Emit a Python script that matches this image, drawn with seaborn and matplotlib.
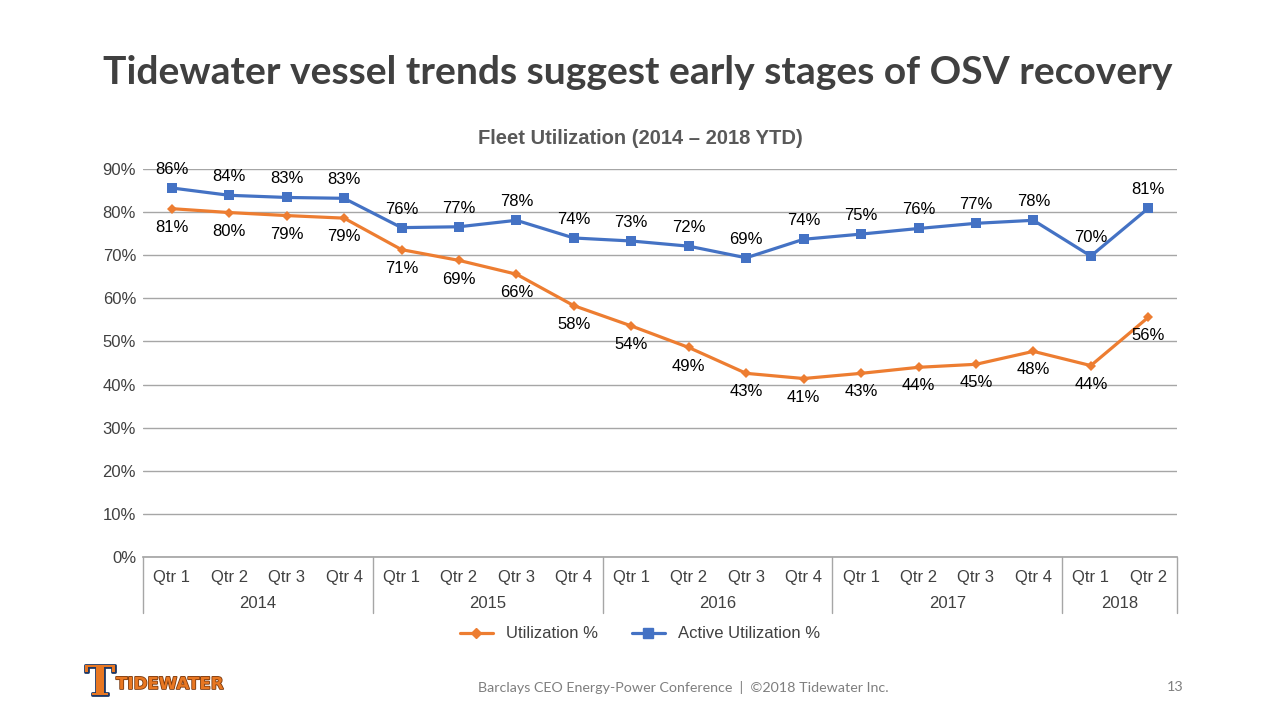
import numpy as np
import pandas as pd
import matplotlib
matplotlib.use("Agg")
import matplotlib.pyplot as plt
import matplotlib.patheffects as pe
import matplotlib.transforms as mtransforms
from matplotlib.lines import Line2D
from matplotlib.ticker import PercentFormatter
import seaborn as sns

# Datos
years = ["2014", "2015", "2016", "2017", "2018"]
quarters_per_year = [4, 4, 4, 4, 2]
quarter_labels = ["Qtr 1", "Qtr 2", "Qtr 3", "Qtr 4"] * 4 + ["Qtr 1", "Qtr 2"]
utilization = [80.8, 79.9, 79.2, 78.6, 71.3, 68.8, 65.6, 58.3, 53.6, 48.6,
               42.6, 41.4, 42.6, 44.0, 44.7, 47.7, 44.4, 55.6]
active_utilization = [85.6, 83.9, 83.4, 83.2, 76.4, 76.6, 78.1, 74.0, 73.3, 72.1,
                      69.4, 73.7, 74.9, 76.2, 77.4, 78.1, 69.8, 80.9]

ORANGE = "#ED7D31"
BLUE = "#4472C4"

sns.set_theme(style="white")
plt.rcParams["font.family"] = ["Liberation Sans", "DejaVu Sans"]

pos = np.arange(len(quarter_labels))
df = pd.DataFrame({
    "pos": np.concatenate([pos, pos]),
    "valor": utilization + active_utilization,
    "serie": ["Utilization %"] * len(pos) + ["Active Utilization %"] * len(pos),
})

fig = plt.figure(figsize=(12.8, 7.2), dpi=100)
ax = fig.add_axes([143 / 1280, 1 - 557 / 720, 1034 / 1280, 388 / 720])

sns.lineplot(data=df, x="pos", y="valor", hue="serie", style="serie",
             palette={"Utilization %": ORANGE, "Active Utilization %": BLUE},
             markers={"Utilization %": "D", "Active Utilization %": "s"},
             dashes=False, linewidth=2.3, markersize=6.5, markeredgewidth=0,
             ax=ax, legend=False)
# diamantes más pequeños que los cuadrados
for line, ms in zip(ax.lines, [5, 7.5]):
    line.set_markersize(ms)

ax.set_xlim(-0.5, len(pos) - 0.5)
ax.set_ylim(0, 90)
ax.set_yticks(np.arange(0, 91, 10))
ax.yaxis.set_major_formatter(PercentFormatter(decimals=0))
ax.grid(axis="y", color="#a6a6a6", linewidth=1)
ax.set_xticks([])
ax.set_xlabel("")
ax.set_ylabel("")
ax.tick_params(axis="y", labelsize=12, colors="#404040", length=0, pad=5)
for s in ["top", "right", "left"]:
    ax.spines[s].set_visible(False)
ax.spines["bottom"].set_color("#a6a6a6")

# etiquetas de datos
for x, u, a in zip(pos, utilization, active_utilization):
    ax.annotate(f"{a:.0f}%", (x, a), xytext=(0, 8), textcoords="offset points",
                ha="center", va="bottom", fontsize=12, color="#000000")
    ax.annotate(f"{u:.0f}%", (x, u), xytext=(0, -8), textcoords="offset points",
                ha="center", va="top", fontsize=12, color="#000000")

# eje x en dos niveles
trans = mtransforms.blended_transform_factory(ax.transData, ax.transAxes)
for x, q in zip(pos, quarter_labels):
    ax.text(x, -0.052, q, transform=trans, ha="center", va="center",
            fontsize=12, color="#404040")
bounds = np.concatenate([[0], np.cumsum(quarters_per_year)]) - 0.5
for b in bounds:
    ax.plot([b, b], [0, -0.145], transform=trans, color="#a6a6a6",
            linewidth=1, clip_on=False)
for y, lo, hi in zip(years, bounds[:-1], bounds[1:]):
    ax.text((lo + hi) / 2, -0.12, y, transform=trans, ha="center",
            va="center", fontsize=12, color="#404040")

# leyenda
handles = [Line2D([], [], color=ORANGE, marker="D", markersize=5, linewidth=2.3),
           Line2D([], [], color=BLUE, marker="s", markersize=6.5, linewidth=2.3)]
fig.legend(handles, ["Utilization %", "Active Utilization %"], loc="center",
           bbox_to_anchor=(0.5, 1 - 634 / 720), ncol=2, frameon=False,
           fontsize=12, handlelength=2.0, columnspacing=2.0,
           labelcolor="#404040")

# títulos
fig.text(638 / 1280, 1 - 72 / 720, "Tidewater vessel trends suggest early stages of OSV recovery",
         ha="center", va="center", fontsize=28.1, fontweight="bold",
         color="#404040", family=["Lato", "DejaVu Sans"])
fig.text(0.5, 1 - 138 / 720, "Fleet Utilization (2014 \u2013 2018 YTD)",
         ha="center", va="center", fontsize=14.5, fontweight="bold",
         color="#595959")

# pie de página
fig.text(683 / 1280, 1 - 687 / 720,
         "Barclays CEO Energy-Power Conference  |  \u00a92018 Tidewater Inc.",
         ha="center", va="center", fontsize=10.3, color="#7f7f7f",
         family=["Lato", "DejaVu Sans"])
fig.text(1183 / 1280, 1 - 687 / 720, "13", ha="right", va="center",
         fontsize=10.3, color="#7f7f7f", family=["Lato", "DejaVu Sans"])

# logotipo
fig.text(100 / 1280, 1 - 683 / 720, "T", ha="center", va="center",
         fontsize=30, fontweight="black", color="#E87722",
         family=["DejaVu Serif"],
         path_effects=[pe.withStroke(linewidth=2, foreground="#1F3864")])
fig.text(116 / 1280, 1 - 684 / 720, "TIDEWATER", ha="left", va="center",
         fontsize=12, fontweight="bold", color="#E87722",
         family=["DejaVu Sans"],
         path_effects=[pe.withStroke(linewidth=1.2, foreground="#7a3a10")])

fig.savefig("out.png", dpi=100, facecolor="white")
